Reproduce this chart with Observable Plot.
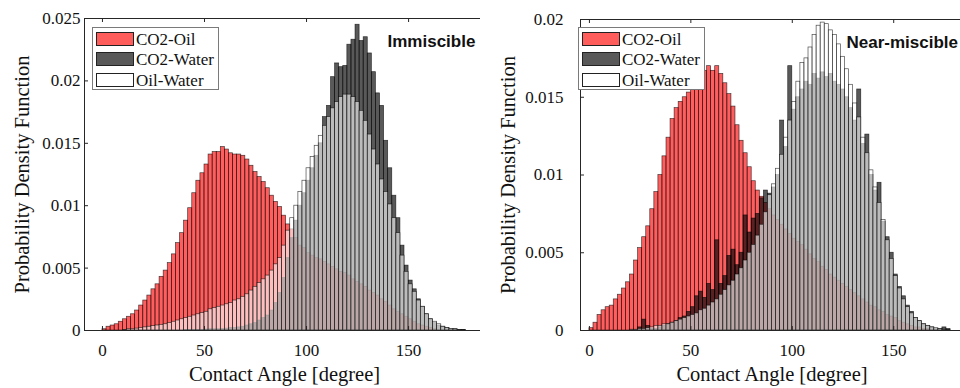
<!DOCTYPE html>
<html><head><meta charset="utf-8">
<script src="https://cdn.jsdelivr.net/npm/d3@7"></script>
<script src="https://cdn.jsdelivr.net/npm/@observablehq/plot@0.6"></script>
<style>
body{margin:0;background:#fff;}
#wrap{position:relative;width:960px;height:388px;overflow:hidden;background:#fff;}
.panel{position:absolute;top:0;height:388px;width:480px;overflow:hidden;}
.panel svg{max-width:none !important;width:500px !important;height:388px !important;}
.legend{position:absolute;background:#fff;border:1px solid #7a7a7a;box-sizing:border-box;font-family:"Liberation Serif","Times New Roman",serif;font-size:17px;color:#111;}
.legend .sw{position:absolute;left:3px;width:38px;height:14px;box-sizing:border-box;border:1px solid #222;}
.legend .lb{position:absolute;left:43px;line-height:17px;white-space:nowrap;}
</style></head>
<body><div id="wrap"></div>
<script>
// ---------- data ----------
const binEdges = d3.range(0, 182, 2); // 2-degree bins, 0..180
const seriesNames = ["CO2-Oil", "CO2-Water", "Oil-Water"];
const xTicks = [0, 50, 100, 150];
const xTickLabels = ["0", "50", "100", "150"];
const immYTicks = [0, 0.005, 0.01, 0.015, 0.02, 0.025];
const immYTickLabels = ["0", "0.005", "0.01", "0.015", "0.02", "0.025"];
const nearYTicks = [0, 0.005, 0.01, 0.015, 0.02];
const nearYTickLabels = ["0", "0.005", "0.01", "0.015", "0.02"];
const xLabel = "Contact Angle [degree]";
const yLabel = "Probability Density Function";
const panelTitles = ["Immiscible", "Near-miscible"];

const immCO2Oil = [0.0001,0.0003,0.0004,0.0005,0.0007,0.0009,0.0011,0.0013,0.0016,0.0020,
 0.0024,0.0028,0.0033,0.0037,0.0043,0.0048,0.0054,0.0061,0.0070,0.0078,
 0.0088,0.0098,0.0110,0.0120,0.0126,0.0133,0.0141,0.0143,0.0143,0.0147,
 0.0145,0.0142,0.0141,0.0141,0.0140,0.0137,0.0132,0.0127,0.0123,0.0119,
 0.0114,0.0108,0.0103,0.0099,0.0092,0.0085,0.0081,0.0074,0.0068,0.0066,
 0.0062,0.0060,0.0058,0.0057,0.0055,0.0053,0.0051,0.0049,0.0047,0.0046,
 0.0044,0.0041,0.0039,0.0037,0.0035,0.0032,0.0030,0.0028,0.0025,0.0023,
 0.0020,0.0017,0.0015,0.0013,0.0011,0.0009,0.0007,0.0005,0.0004,0.0003,
 0.0002,0.0001,0,0,0,0,0,0,0,0];
const immCO2Water = [0,0,0,0,0,0,0,0,0,0,
 0,0,0,0,0,0,0,0,0,0,
 0.00003,0.00003,0.00005,0.00005,0.00005,0.00008,0.0001,0.0001,0.0001,0.00012,
 0.00015,0.0002,0.0002,0.00025,0.0003,0.0004,0.0005,0.0006,0.0008,0.0010,
 0.0012,0.0016,0.0022,0.0030,0.0042,0.0058,0.0074,0.0088,0.0100,0.0110,
 0.0120,0.0130,0.0140,0.0150,0.0171,0.0180,0.0203,0.0214,0.0211,0.0212,
 0.0229,0.0233,0.0245,0.0232,0.0235,0.0222,0.0207,0.0190,0.0180,0.0152,
 0.0130,0.0108,0.0090,0.0068,0.0052,0.0040,0.0033,0.0025,0.0019,0.0013,
 0.0009,0.0006,0.0004,0.0003,0.0002,0.0001,0.0001,0.00005,0.00003,0];
const immOilWater = [0,0,0,0,0,0.00005,0.0001,0.0001,0.00015,0.0002,
 0.00025,0.0003,0.00035,0.0004,0.00045,0.0005,0.0006,0.0007,0.0008,0.0009,
 0.0010,0.0011,0.0012,0.0013,0.0014,0.0015,0.0017,0.0018,0.0019,0.0020,
 0.0021,0.0022,0.0024,0.0025,0.0027,0.0029,0.0032,0.0035,0.0038,0.0041,
 0.0044,0.0048,0.0053,0.0058,0.0068,0.0080,0.0090,0.0100,0.0111,0.0120,
 0.0130,0.0139,0.0148,0.0156,0.0164,0.0171,0.0178,0.0183,0.0187,0.0189,
 0.0189,0.0187,0.0183,0.0176,0.0168,0.0157,0.0145,0.0133,0.0121,0.0111,
 0.0101,0.0090,0.0078,0.0060,0.0047,0.0037,0.0031,0.0024,0.0019,0.0013,
 0.0009,0.0007,0.0005,0.0003,0.0002,0.00013,0.0001,0.00005,0.00003,0];

const nearCO2Oil = [0.00015,0.0005,0.0010,0.0013,0.0015,0.0016,0.0020,0.0023,0.0027,0.0031,
 0.0036,0.0045,0.0053,0.0060,0.0067,0.0078,0.0089,0.0100,0.0112,0.0124,
 0.0136,0.0143,0.0147,0.0150,0.0153,0.0156,0.0160,0.0163,0.0167,0.0170,
 0.0167,0.0170,0.0165,0.0159,0.0152,0.0144,0.0132,0.0122,0.0114,0.0105,
 0.0096,0.0090,0.0086,0.0082,0.0078,0.0074,0.0071,0.0068,0.0065,0.0062,
 0.0059,0.0057,0.0055,0.0052,0.0049,0.0046,0.0044,0.0041,0.0039,0.0036,
 0.0034,0.0032,0.0030,0.0028,0.0026,0.0024,0.0022,0.0020,0.0018,0.0016,
 0.0015,0.0013,0.0012,0.0010,0.0009,0.0008,0.0006,0.0005,0.0004,0.0003,
 0.0002,0.0002,0.0001,0.0001,0,0,0,0,0,0];
const nearCO2Water = [0,0,0,0,0,0,0,0,0,0,
 0,0,0.0002,0.0007,0.0003,0.0001,0.0001,0.0002,0.0003,0.0004,
 0.0005,0.0006,0.0008,0.0009,0.0012,0.0015,0.0022,0.0025,0.0021,0.0030,
 0.0026,0.0058,0.0030,0.0035,0.0048,0.0052,0.0042,0.0050,0.0074,0.0063,
 0.0072,0.0075,0.0085,0.0090,0.0088,0.0092,0.0100,0.0135,0.0118,0.0170,
 0.0142,0.0150,0.0155,0.0160,0.0158,0.0165,0.0162,0.0166,0.0163,0.0165,
 0.0160,0.0158,0.0155,0.0150,0.0143,0.0135,0.0155,0.0120,0.0126,0.0100,
 0.0090,0.0095,0.0070,0.0060,0.0050,0.0036,0.0028,0.0022,0.0016,0.0012,
 0.0008,0.0006,0.0004,0.0003,0.0002,0.0001,0.0001,0.0002,0.0001,0];
const nearOilWater = [0,0,0,0,0,0,0,0,0,0,
 0.00005,0.00005,0.0001,0.0001,0.00015,0.0002,0.0003,0.0003,0.0004,0.0004,
 0.0005,0.0006,0.0007,0.0008,0.0009,0.0010,0.0011,0.0013,0.0014,0.0016,
 0.0018,0.0020,0.0023,0.0026,0.0029,0.0032,0.0036,0.0040,0.0045,0.0050,
 0.0055,0.0061,0.0068,0.0076,0.0087,0.0094,0.0104,0.0113,0.0124,0.0135,
 0.0147,0.0160,0.0172,0.0175,0.0182,0.0190,0.0196,0.0198,0.0197,0.0193,
 0.0190,0.0184,0.0176,0.0168,0.0158,0.0146,0.0137,0.0124,0.0114,0.0103,
 0.0092,0.0082,0.0071,0.0058,0.0046,0.0035,0.0027,0.0020,0.0015,0.0011,
 0.0008,0.0006,0.0004,0.0003,0.0002,0.00015,0.0001,0.00005,0.00003,0];

// ---------- styles ----------
const seriesStyle = {
  "CO2-Oil":   {fill: "#ff0000", fillOpacity: 0.63},
  "CO2-Water": {fill: "#000000", fillOpacity: 0.65},
  "Oil-Water": {fill: "#ffffff", fillOpacity: 0.6}
};
const axisColor = "#262626";
const serif = "'Liberation Serif','Times New Roman',serif";
const sans = "'Liberation Sans',Arial,sans-serif";

function toRows(values) {
  return values.map((v, i) => ({x1: binEdges[i], x2: binEdges[i + 1], y: v})).filter(d => d.y > 0);
}

function panel(cfg) {
  const plotW = cfg.right - cfg.marginLeft;
  const plotH = 330 - cfg.marginTop;
  const fmtX = d => xTickLabels[xTicks.indexOf(d)];
  const fmtY = d => cfg.yTickLabels[cfg.yTicks.indexOf(d)];
  return Plot.plot({
    width: cfg.width, height: 388,
    marginLeft: cfg.marginLeft, marginRight: cfg.width - cfg.right,
    marginTop: cfg.marginTop, marginBottom: 58,
    x: {domain: cfg.xDomain},
    y: {domain: [0, cfg.yMax]},
    style: {fontFamily: serif, color: axisColor, background: "transparent", maxWidth: "none"},
    marks: [
      ...seriesNames.map((name, s) => Plot.rectY(toRows(cfg.series[s]), {
        x1: "x1", x2: "x2", y: "y",
        fill: seriesStyle[name].fill, fillOpacity: seriesStyle[name].fillOpacity,
        stroke: "#000", strokeOpacity: 0.7, strokeWidth: 0.7
      })),
      Plot.frame({stroke: axisColor}),
      Plot.ruleX(xTicks, {stroke: axisColor, insetTop: plotH - 4}),
      Plot.ruleX(xTicks, {stroke: axisColor, insetBottom: plotH - 4}),
      Plot.ruleY(cfg.yTicks, {stroke: axisColor, insetRight: plotW - 4}),
      Plot.axisX({ticks: xTicks, tickSize: 0, tickPadding: 13, tickFormat: fmtX, fontSize: 17, fontFamily: serif, fill: "#111", label: null}),
      Plot.axisY({ticks: cfg.yTicks, tickSize: 0, tickPadding: cfg.yPad, tickFormat: fmtY, fontSize: 17, fontFamily: serif, fill: "#111", label: null}),
      Plot.text([xLabel], {frameAnchor: "bottom", dy: 50, lineAnchor: "bottom", fontSize: 20.5, fontFamily: serif, fill: "#111"}),
      Plot.text([yLabel], {frameAnchor: "left", dx: cfg.yLabelDx, rotate: -90, textAnchor: "middle", lineAnchor: "middle", fontSize: 20.5, fontFamily: serif, fill: "#111"}),
      Plot.text([cfg.title], {frameAnchor: "top-left", dx: cfg.titleDx, dy: 16, lineAnchor: "top", textAnchor: "start", fontFamily: sans, fontWeight: "bold", fontSize: 17, fill: "#111"})
    ]
  });
}

function legend(left, top) {
  const box = document.createElement("div");
  box.className = "legend";
  Object.assign(box.style, {left: left + "px", top: top + "px", width: "127px", height: "63px"});
  const swFill = {"CO2-Oil": "rgb(255,92,92)", "CO2-Water": "rgb(89,89,89)", "Oil-Water": "#fff"};
  seriesNames.forEach((name, i) => {
    const sw = document.createElement("div");
    sw.className = "sw";
    sw.style.top = (4 + i * 20.4) + "px";
    sw.style.background = swFill[name];
    box.appendChild(sw);
    const lb = document.createElement("div");
    lb.className = "lb";
    lb.style.top = (3 + i * 20.4) + "px";
    lb.textContent = name;
    box.appendChild(lb);
  });
  return box;
}

const wrap = document.getElementById("wrap");
const configs = [
  {left: 0, width: 500, marginLeft: 84, right: 484, marginTop: 18, xDomain: [-8.8, 187.2], yMax: 0.025,
   yTicks: immYTicks, yTickLabels: immYTickLabels, yPad: 4, yLabelDx: -62, titleDx: 303,
   title: panelTitles[0], series: [immCO2Oil, immCO2Water, immOilWater], legend: [92, 27]},
  {left: 480, width: 500, marginLeft: 100, right: 483, marginTop: 19, xDomain: [-4.4, 184.4], yMax: 0.02,
   yTicks: nearYTicks, yTickLabels: nearYTickLabels, yPad: 17, yLabelDx: -72, titleDx: 266,
   title: panelTitles[1], series: [nearCO2Oil, nearCO2Water, nearOilWater], legend: [578, 27]}
];
configs.forEach(cfg => {
  const div = document.createElement("div");
  div.className = "panel";
  div.style.left = cfg.left + "px";
  div.appendChild(panel(cfg));
  wrap.appendChild(div);
});
configs.forEach(cfg => wrap.appendChild(legend(cfg.legend[0], cfg.legend[1])));
</script></body></html>
